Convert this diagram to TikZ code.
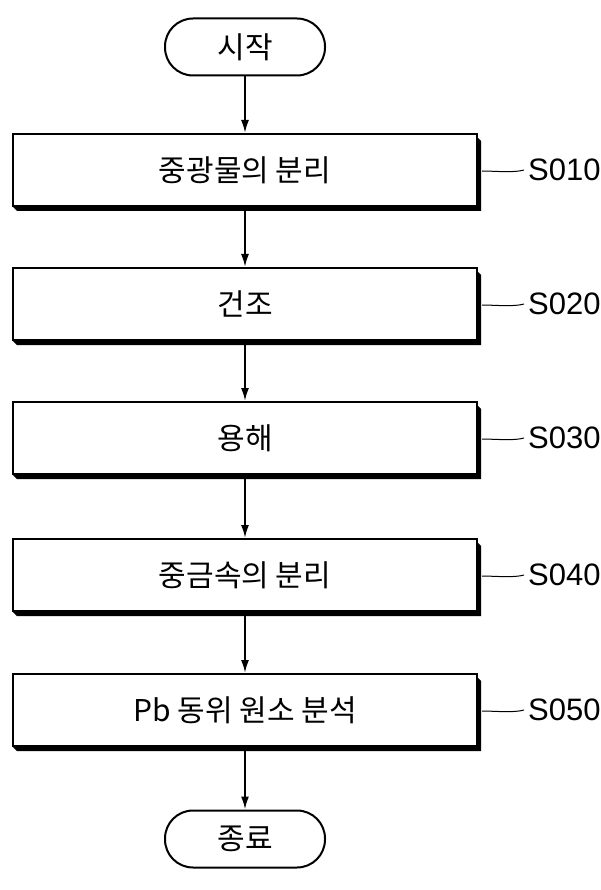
\documentclass[tikz,border=0pt]{standalone}
\usetikzlibrary{arrows.meta}
\usepackage{fontspec}
\setmainfont{Noto Sans CJK KR}
\newfontfamily\lab{Liberation Sans}
\begin{document}
\begin{tikzpicture}[x=1pt,y=-1pt,
  stepbox/.style={draw,line width=2pt,minimum width=464pt,minimum height=72pt,font=\fontsize{30}{32}\selectfont,fill=white},
  term/.style={draw,line width=2pt,rounded corners=28pt,minimum width=160pt,minimum height=57pt,font=\fontsize{30}{32}\selectfont},
  arr/.style={line width=2pt,-{Latex[length=13pt,width=8pt]}},
  lead/.style={line width=1pt},
  tag/.style={font=\lab\fontsize{31}{33}\selectfont,anchor=west,inner sep=0pt}]
\useasboundingbox (0,0) rectangle (600,890);
\node[term] (st) at (245,47) {시작};
\foreach \n/\y/\t in {a/170/중광물의 분리,b/304/건조,c/438/용해,d/575/중금속의 분리,e/710/Pb 동위 원소 분석}{
  \fill (16,\y-33) -- (477,\y-33) -- (481,\y-29) -- (481,\y+41) -- (17,\y+41) -- (13,\y+37) -- cycle;
  \node[stepbox] (\n) at (245,\y) {\t};
}
\node[term] (en) at (245,839) {종료};
\draw[arr] (st) -- (a);
\draw[arr] (a) -- (b);
\draw[arr] (b) -- (c);
\draw[arr] (c) -- (d);
\draw[arr] (d) -- (e);
\draw[arr] (e) -- (en);
\foreach \n/\t in {a/S010,b/S020,c/S030,d/S040,e/S050}{
  \node[tag] (l\n) at ([xshift=50pt]\n.east) {\t};
  \draw[lead] ([xshift=4pt,yshift=-1pt]\n.east) .. controls ++(12,0) and ([xshift=-14pt,yshift=-3pt]l\n.west) .. ([xshift=-4pt]l\n.west);
}
\end{tikzpicture}
\end{document}
